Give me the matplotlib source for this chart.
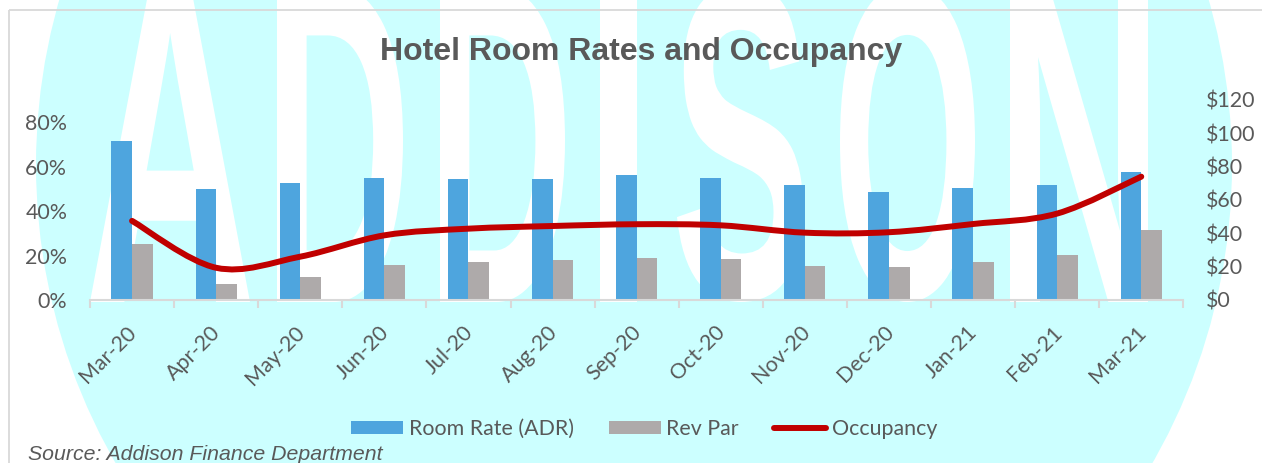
import matplotlib
matplotlib.use('Agg')
import matplotlib.pyplot as plt
import numpy as np
from matplotlib.patches import Circle, PathPatch, Rectangle
from matplotlib.path import Path
from matplotlib.textpath import TextPath
from matplotlib.font_manager import FontProperties
from matplotlib.transforms import Affine2D, ScaledTranslation
from matplotlib.lines import Line2D

# data
months = ['Mar-20', 'Apr-20', 'May-20', 'Jun-20', 'Jul-20', 'Aug-20', 'Sep-20',
          'Oct-20', 'Nov-20', 'Dec-20', 'Jan-21', 'Feb-21', 'Mar-21']
room_rate = [95.4, 66.4, 70.2, 73.4, 72.8, 72.4, 75.0, 73.4, 68.8, 64.8, 67.2, 69.0, 76.6]
rev_par = [33.4, 9.4, 13.8, 21.0, 23.0, 24.0, 25.4, 24.4, 20.4, 19.8, 22.6, 27.0, 42.2]
occupancy = [0.356, 0.145, 0.195, 0.291, 0.321, 0.333, 0.341, 0.336, 0.303, 0.305, 0.342, 0.389, 0.555]

rate_ticks = [0, 20, 40, 60, 80, 100, 120]
occ_ticks = [0, 0.2, 0.4, 0.6, 0.8]

GREY_TXT = '#595959'
BLUE = '#4EA5DE'
GREY_BAR = '#AEAAAA'
RED = '#C00000'
LABEL_FONT = 'Lato'
LABEL_SIZE = 15.4

W, H = 1262, 463
fig = plt.figure(figsize=(W / 100, H / 100), dpi=100)
fig.patch.set_facecolor('white')

# --- "ADDISON" watermark behind the chart (pixel coordinates) ---
bg = fig.add_axes([0, 0, 1, 1], zorder=-1)
bg.set_xlim(0, W)
bg.set_ylim(H, 0)
bg.axis('off')
bg.add_patch(Circle((634, 165), 598, color='#CCFFFF', lw=0))

wm_letters = ['A', 'D', 'D', 'I', 'S', 'O', 'N']
wm_left = [90, 277, 440, 600, 677, 840, 1010]
wm_right = [250, 403, 565, 637, 803, 975, 1148]
wm_top, wm_bottom = -16, 302
fp = FontProperties(family='Liberation Sans', weight='bold')
for ch, xl, xr in zip(wm_letters, wm_left, wm_right):
    tp = TextPath((0, 0), ch, size=100, prop=fp)
    e = tp.get_extents()
    tr = (Affine2D().translate(-e.x0, -e.y0)
          .scale((xr - xl) / e.width, -(wm_bottom - wm_top) / e.height)
          .translate(xl, wm_bottom))
    bg.add_patch(PathPatch(tr.transform_path(tp), color='white', lw=0))

bg.add_patch(Rectangle((8.5, 10), 1400, 600, fill=False, ec='#D9D9D9', lw=1.3))

# --- chart ---
ax = fig.add_axes([90 / W, 1 - 300 / H, 1093.3 / W, 200 / H])
ax.patch.set_visible(False)
x = np.arange(len(months))
bw = 0.245
b1 = ax.bar(x - bw / 2, room_rate, bw, color=BLUE, label='Room Rate (ADR)', zorder=2)
b2 = ax.bar(x + bw / 2, rev_par, bw, color=GREY_BAR, label='Rev Par', zorder=2)
ax.set_xlim(-0.5, len(months) - 0.5)
ax.set_ylim(0, 120)

ax2 = ax.twinx()
ax2.patch.set_visible(False)
ax2.set_ylim(0, 0.9)

# bars use the right axis, occupancy the left one
ax.yaxis.tick_right()
ax2.yaxis.tick_left()

ax.set_yticks(rate_ticks)
ax.set_yticklabels(['${}'.format(v) for v in rate_ticks])
ax2.set_yticks(occ_ticks)
ax2.set_yticklabels(['{:.0f}%'.format(v * 100) for v in occ_ticks])

for a in (ax, ax2):
    for s in a.spines.values():
        s.set_visible(False)
ax.spines['bottom'].set_visible(True)
ax.spines['bottom'].set_color('#D9D9D9')
ax.spines['bottom'].set_linewidth(1.5)

ax.tick_params(axis='y', length=0, pad=16.0, labelsize=LABEL_SIZE, labelcolor=GREY_TXT)
ax2.tick_params(axis='y', length=0, pad=16.3, labelsize=LABEL_SIZE, labelcolor=GREY_TXT)
for lab in ax.get_yticklabels() + ax2.get_yticklabels():
    lab.set_family(LABEL_FONT)

# category boundaries as tick marks, month labels written at 45 degrees
ax.set_xticks(np.arange(-0.5, len(months), 1))
ax.set_xticklabels([])
ax.tick_params(axis='x', length=6, width=1.5, color='#D9D9D9')
lab_off = ScaledTranslation(1.5 / 100, -29 / 100, fig.dpi_scale_trans)
for i, m in enumerate(months):
    ax.text(x[i], 0, m, transform=ax.get_xaxis_transform() + lab_off,
            rotation=45, rotation_mode='anchor', ha='right', va='center',
            family=LABEL_FONT, fontsize=LABEL_SIZE, color=GREY_TXT)

# smoothed occupancy line (bezier through the monthly points)
pts = np.column_stack([x, occupancy])
pp = np.vstack([pts[0], pts, pts[-1]])
verts = [pts[0]]
codes = [Path.MOVETO]
for i in range(len(pts) - 1):
    p0, p1, p2, p3 = pp[i], pp[i + 1], pp[i + 2], pp[i + 3]
    verts += [p1 + (p2 - p0) / 6, p2 - (p3 - p1) / 6, p2]
    codes += [Path.CURVE4] * 3
ax2.add_patch(PathPatch(Path(verts, codes), fill=False, ec=RED, lw=4.3,
                        capstyle='round', zorder=3))

# title, legend, source
fig.text(641 / W, 1 - 60 / H, 'Hotel Room Rates and Occupancy', ha='center', va='baseline',
         fontsize=23, weight='bold', family='Liberation Sans', color=GREY_TXT)

occ_handle = Line2D([], [], color=RED, lw=4.3, solid_capstyle='round')
fig.legend([b1, b2, occ_handle], ['Room Rate (ADR)', 'Rev Par', 'Occupancy'],
           loc='center', bbox_to_anchor=(644 / W, 1 - 429 / H), ncol=3, frameon=False,
           prop=FontProperties(family=LABEL_FONT, size=LABEL_SIZE),
           handlelength=2.43, handleheight=0.62, handletextpad=0.26,
           columnspacing=1.64, borderpad=0, labelcolor=GREY_TXT)

fig.text(28 / W, 1 - 460 / H, 'Source: Addison Finance Department', ha='left', va='baseline',
         fontsize=15.3, style='italic', family='Liberation Sans', color=GREY_TXT)

fig.savefig('out.png', dpi=100)
